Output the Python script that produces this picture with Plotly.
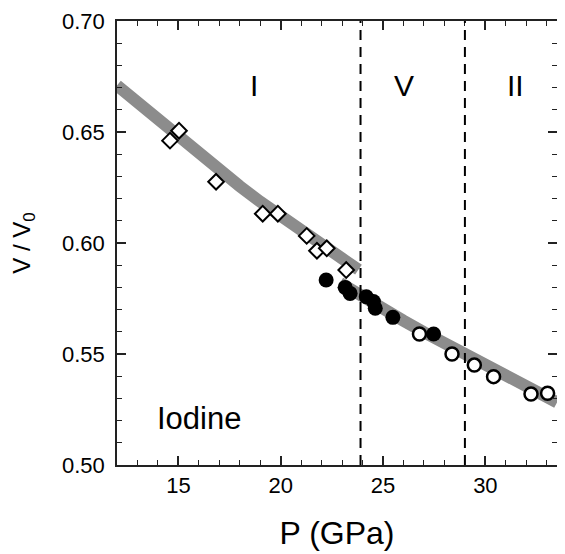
import plotly.graph_objects as go

# phase I (open diamonds)
p_phase1 = [14.59, 15.03, 16.84, 19.12, 19.86, 21.27, 21.77, 22.25, 23.20]
v_phase1 = [0.6461, 0.6506, 0.6276, 0.6132, 0.6132, 0.6032, 0.5965, 0.5976, 0.5878]

# phase V (filled circles)
p_phase5 = [22.22, 23.15, 23.39, 24.18, 24.53, 24.62, 25.48, 27.47]
v_phase5 = [0.5833, 0.5800, 0.5773, 0.5758, 0.5736, 0.5706, 0.5665, 0.5590]

# phase II (open circles)
p_phase2 = [26.78, 28.37, 29.46, 30.40, 32.23, 33.04]
v_phase2 = [0.5590, 0.5500, 0.5450, 0.5398, 0.5320, 0.5323]

# gray guide bands (equation-of-state fits)
p_fit1 = [12.0, 13.0, 14.0, 15.0, 16.0, 17.0, 18.0, 19.0, 20.0, 21.0, 22.0, 23.0, 23.8]
v_fit1 = [0.671, 0.6632, 0.6554, 0.6476, 0.640, 0.6328, 0.6256, 0.6186, 0.6118,
          0.6053, 0.5990, 0.5930, 0.5880]
p_fit2 = [22.9, 24.0, 25.0, 26.0, 27.0, 28.0, 29.0, 30.0, 31.0, 32.0, 33.5]
v_fit2 = [0.582, 0.5755, 0.570, 0.565, 0.5598, 0.5548, 0.5498, 0.5448, 0.540,
          0.5352, 0.5282]

phase_boundaries = [23.9, 29.0]
phase_names = ["I", "V", "II"]
phase_label_p = [18.7, 26.0, 31.45]

FONT = "Liberation Sans, Arial, Helvetica, sans-serif"

fig = go.Figure()

for px, py in [(p_fit1, v_fit1), (p_fit2, v_fit2)]:
    fig.add_trace(go.Scatter(
        x=px, y=py, mode="lines",
        line={"color": "#8c8c8c", "width": 12},
        hoverinfo="skip", showlegend=False,
    ))

fig.add_trace(go.Scatter(
    x=p_phase1, y=v_phase1, mode="markers", name="I",
    marker={"symbol": "diamond", "size": 12, "color": "white",
            "line": {"color": "black", "width": 2}},
    showlegend=False,
))
fig.add_trace(go.Scatter(
    x=p_phase5, y=v_phase5, mode="markers", name="V",
    marker={"symbol": "circle", "size": 15, "color": "black",
            "line": {"color": "black", "width": 0}},
    showlegend=False,
))
fig.add_trace(go.Scatter(
    x=p_phase2, y=v_phase2, mode="markers", name="II",
    marker={"symbol": "circle", "size": 13, "color": "white",
            "line": {"color": "black", "width": 2.5}},
    showlegend=False,
))

for boundary in phase_boundaries:
    fig.add_shape(
        type="line", xref="x", yref="paper",
        x0=boundary, x1=boundary, y0=0, y1=1,
        line={"color": "black", "width": 2, "dash": "10px,7px"},
    )

for name, xpos in zip(phase_names, phase_label_p):
    fig.add_annotation(
        x=xpos, y=0.6708, text=name, showarrow=False,
        font={"family": FONT, "size": 30, "color": "black"},
        xanchor="center", yanchor="middle",
    )

fig.add_annotation(
    x=13.85, y=0.521, text="Iodine", showarrow=False,
    font={"family": FONT, "size": 31, "color": "black"},
    xanchor="left", yanchor="middle",
)

axis_common = dict(
    showline=True, linecolor="#222", linewidth=1.5, mirror="allticks",
    ticks="inside", ticklen=9, tickwidth=1.5, tickcolor="#222",
    showgrid=False, zeroline=False, automargin=False,
    tickfont={"family": FONT, "size": 22, "color": "black"},
)

fig.update_xaxes(
    range=[12, 33.5], tick0=0, dtick=5,
    minor={"ticks": "inside", "dtick": 1, "ticklen": 5, "tickcolor": "#222", "tickwidth": 1.2},
    title={"text": "P (GPa)", "font": {"family": FONT, "size": 32, "color": "black"},
           "standoff": 24},
    ticklabelstandoff=0,
    **axis_common,
)
fig.update_yaxes(
    range=[0.5, 0.7], tick0=0.5, dtick=0.05, tickformat=".2f",
    minor={"ticks": "inside", "dtick": 0.01, "ticklen": 5, "tickcolor": "#222", "tickwidth": 1.2},
    title={"text": "V / V<sub>0</sub>", "font": {"family": FONT, "size": 24, "color": "black"},
           "standoff": 26},
    ticklabelstandoff=6,
    **axis_common,
)

# the page body adds an 8px margin, so the figure is sized to fit inside it
fig.update_layout(
    width=557, height=546,
    margin={"l": 109, "r": 8, "t": 13, "b": 89},
    paper_bgcolor="white", plot_bgcolor="white",
    showlegend=False,
)

fig.write_html("out.html")
